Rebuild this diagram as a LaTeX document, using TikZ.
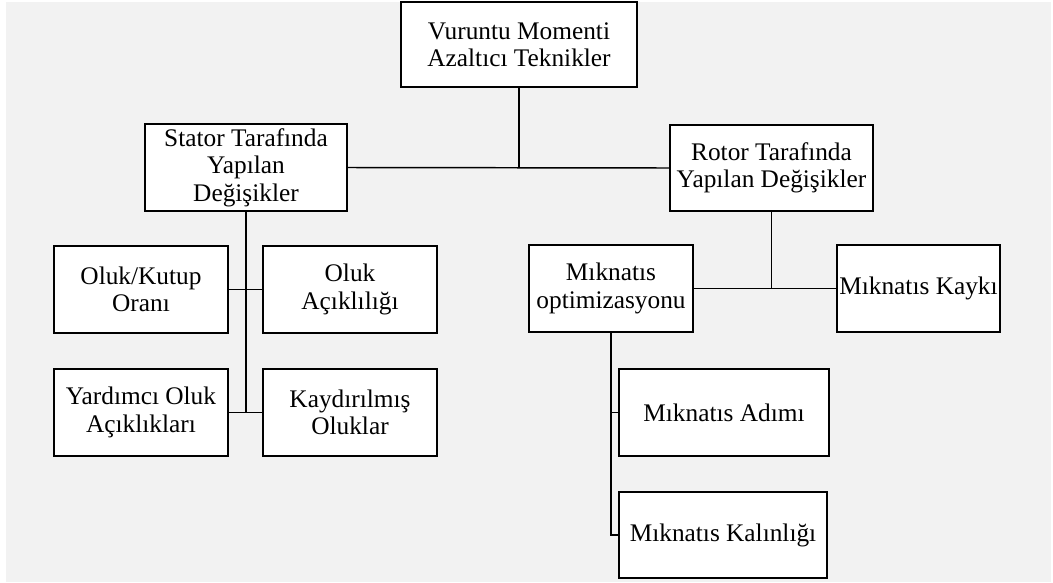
\documentclass[tikz,border=0pt]{standalone}
\usepackage{fontspec}
\setmainfont{Liberation Serif}
\tikzset{
  kutu/.style={draw, line width=1.1pt, fill=white, align=center, inner sep=0pt,
    minimum height=65pt},
  bag/.style={line width=1.1pt}
}
\begin{document}
\begin{tikzpicture}[x=0.75pt, y=-0.75pt, font=\fontsize{19}{20.6}\selectfont]
	\useasboundingbox (0,0) rectangle (1053,582);
	\fill[black!5] (6,2) rectangle (1051,582);
	% ust seviye
	\node[kutu, minimum width=177pt, minimum height=63.75pt] (tekn) at (519,44.5) {Vuruntu Momenti\\Azaltıcı Teknikler};
	\node[kutu, minimum width=151.5pt] (stator) at (246,167.5) {Stator Tarafında\\Yapılan\\Değişikler};
	\node[kutu, minimum width=152.25pt, minimum height=64.5pt] (rotor) at (771.5,168) {Rotor Tarafında\\Yapılan Değişikler};
	% stator dallari
	\node[kutu, minimum width=130.5pt] (olkut) at (141,289.5) {Oluk/Kutup\\Oranı};
	\node[kutu, minimum width=130.5pt] (olacik) at (350,289.5) {Oluk\\Açıklılığı};
	\node[kutu, minimum width=130.5pt] (yrdolk) at (141,412.5) {Yardımcı Oluk\\Açıklıkları};
	\node[kutu, minimum width=130.5pt] (kaydol) at (350,412.5) {Kaydırılmış\\Oluklar};
	% rotor dallari
	\node[kutu, minimum width=123pt] (mopt) at (611,288.5) {Mıknatıs\\optimizasyonu};
	\node[kutu, minimum width=122.25pt] (mkayk) at (918.5,288.5) {Mıknatıs Kaykı};
	\node[kutu, minimum width=157.5pt] (madim) at (724,412.5) {Mıknatıs Adımı};
	\node[kutu, minimum width=156pt, minimum height=64.5pt] (mkal) at (723,535) {Mıknatıs Kalınlığı};
	% baglantilar
	\draw[bag] (tekn.south) -- (tekn.south |- stator.east);
	\draw[bag] (stator.east) -- (rotor.west);
	\draw[bag] (stator.south) -- (stator.south |- yrdolk.east);
	\draw[bag] (olkut.east) -- (olacik.west) (yrdolk.east) -- (kaydol.west);
	\draw[bag] (rotor.south) -- (rotor.south |- mopt.east);
	\draw[bag] (mopt.east) -- (mkayk.west);
	\draw[bag] (mopt.south) |- (mkal.west);
	\draw[bag] (mopt.south |- madim.west) -- (madim.west);
\end{tikzpicture}
\end{document}
